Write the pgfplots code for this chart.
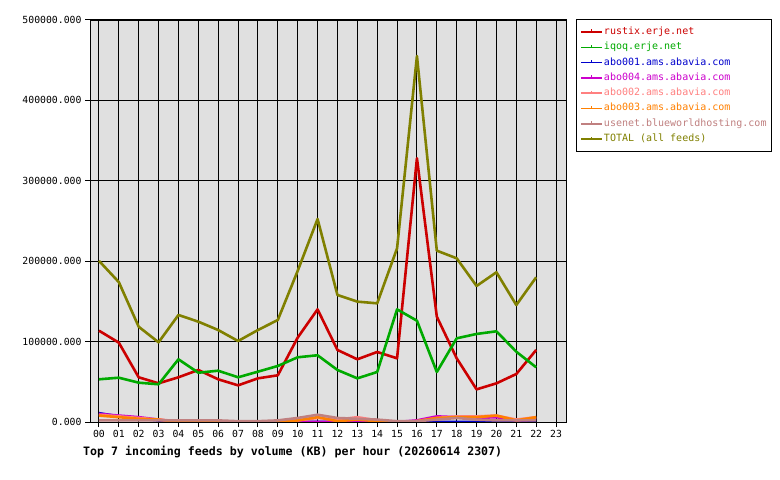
\documentclass[border=0pt]{standalone}
\usepackage{pgfplots}
\pgfplotsset{compat=1.18}
\usepackage{pgfplotstable}
\usepackage{fontspec}
\setmainfont{DejaVu Sans Mono}
\definecolor{cred}{HTML}{CC0000}
\definecolor{cgreen}{HTML}{00AA00}
\definecolor{cblue}{HTML}{0000CC}
\definecolor{cmag}{HTML}{CC00CC}
\definecolor{csalmon}{HTML}{FF8080}
\definecolor{corange}{HTML}{FF8000}
\definecolor{crosy}{HTML}{C08080}
\definecolor{colive}{HTML}{808000}
\definecolor{cbg}{HTML}{E0E0E0}
\pgfplotstableread{
h rustix iqoq abo001 abo004 abo002 abo003 usenet total
0 113600 53100 11000 10000 9000 8000 2000 200500
1 98700 55100 7000 8000 7000 6000 2000 174000
2 55600 48900 4000 6000 5000 4000 2000 118500
3 48100 46900 2000 3000 3000 3000 2000 99100
4 55600 78000 0 0 1000 0 2000 133100
5 64700 61300 0 0 1000 0 2000 124800
6 53100 63800 0 0 1000 0 2000 114400
7 45600 55600 0 0 0 0 1000 100700
8 54300 62600 0 0 0 0 1000 114400
9 58100 69700 0 0 1000 0 2000 126900
10 105000 80500 0 0 2000 2000 5000 188000
11 140100 83000 0 0 5000 6000 9000 252500
12 89600 64700 0 0 3000 1000 5000 158000
13 78000 54300 0 0 6000 3000 4000 149700
14 87100 62200 0 0 2000 1000 3000 147600
15 79200 140100 0 0 0 0 1000 216000
16 328000 126000 0 2000 1000 1000 1000 455200
17 131000 62200 0 7000 5000 5000 3000 213100
18 79200 104100 0 6000 7000 6000 5000 203600
19 40600 109500 0 5000 7000 6000 3000 169200
20 48100 112800 0 6000 8000 8000 2000 186200
21 59700 87400 0 2000 3000 2000 2000 145500
22 89600 68000 0 3000 6000 6000 2000 180000
}\datatable
\begin{document}
\begin{tikzpicture}
\useasboundingbox (0,0) rectangle (780bp,480bp);
\begin{axis}[
  at={(90bp,58bp)}, anchor=south west,
  scale only axis, width=476bp, height=402bp,
  xmin=-0.45, xmax=23.5, ymin=0, ymax=500000,
  enlargelimits=false,
  axis background/.style={fill=cbg},
  axis line style={black, line width=1bp},
  grid=major, grid style={black, line width=0.9bp},
  xtick={0,...,23},
  xticklabels={00,01,02,03,04,05,06,07,08,09,10,11,12,13,14,15,16,17,18,19,20,21,22,23},
  ytick={0,100000,200000,300000,400000,500000},
  scaled y ticks=false,
  yticklabel style={/pgf/number format/.cd, fixed, fixed zerofill, precision=3, 1000 sep={}, assume math mode=true},
  xticklabel style={/pgf/number format/assume math mode=true},
  tick label style={font=\fontsize{9.8bp}{11bp}\selectfont},
  tick align=outside, tick pos=left,
  major tick length=5bp,
  tick style={black, line width=1bp},
  legend style={at={(1.021,1.0025)}, anchor=north west, draw=black, fill=white, line width=1bp,
    font=\fontsize{10bp}{11bp}\selectfont, inner xsep=4bp, inner ysep=6.5bp, row sep=3.3bp,
    nodes={inner sep=1bp, text height=7.5bp, text depth=2.5bp}},
  legend cell align=left,
  legend image code/.code={\draw[#1,line width=1.5bp] (0bp,0bp) -- (21bp,0bp); \draw[#1,line width=1.5bp] (10.5bp,0bp) -- (10.5bp,2.5bp);},
  every axis plot/.append style={line width=2.6bp, line join=round},
]
\addplot[cred, no marks] table[x=h,y=rustix] {\datatable};
\addlegendentry{\textcolor{cred}{rustix.erje.net}}
\addplot[cgreen, no marks] table[x=h,y=iqoq] {\datatable};
\addlegendentry{\textcolor{cgreen}{iqoq.erje.net}}
\addplot[cblue, no marks] table[x=h,y=abo001] {\datatable};
\addlegendentry{\textcolor{cblue}{abo001.ams.abavia.com}}
\addplot[cmag, no marks] table[x=h,y=abo004] {\datatable};
\addlegendentry{\textcolor{cmag}{abo004.ams.abavia.com}}
\addplot[csalmon, no marks] table[x=h,y=abo002] {\datatable};
\addlegendentry{\textcolor{csalmon}{abo002.ams.abavia.com}}
\addplot[corange, no marks] table[x=h,y=abo003] {\datatable};
\addlegendentry{\textcolor{corange}{abo003.ams.abavia.com}}
\addplot[crosy, no marks] table[x=h,y=usenet] {\datatable};
\addlegendentry{\textcolor{crosy}{usenet.blueworldhosting.com}}
\addplot[colive, no marks] table[x=h,y=total] {\datatable};
\addlegendentry{\textcolor{colive}{TOTAL (all feeds)}}
\end{axis}
\node[anchor=west, inner sep=0pt, font=\fontsize{11.6bp}{13bp}\selectfont\bfseries] at (83bp,28bp) {Top 7 incoming feeds by volume (KB) per hour (20260614 2307)};
\end{tikzpicture}
\end{document}
